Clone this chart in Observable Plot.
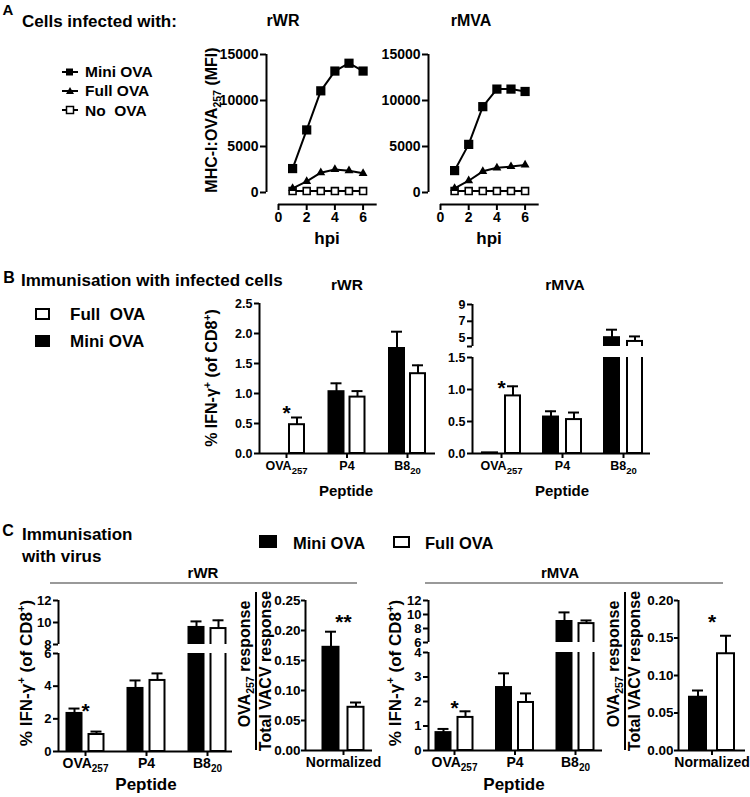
<!DOCTYPE html>
<html><head><meta charset="utf-8">
<script src="https://cdn.jsdelivr.net/npm/d3@7"></script>
<script src="https://cdn.jsdelivr.net/npm/@observablehq/plot@0.6"></script>
<style>
html,body{margin:0;padding:0;background:#fff;}
#root{position:relative;width:750px;height:797px;overflow:hidden;font-family:"Liberation Sans",Arial,Helvetica,sans-serif;font-weight:bold;color:#000;background:#fff;}
.lab{position:absolute;white-space:nowrap;line-height:1;}
.lab sub,.lab sup{font-size:0.66em;line-height:0;}
.box{position:absolute;box-sizing:border-box;border:2px solid #000;}
</style></head><body><div id="root"></div>
<script>
// ---------------- DATA ----------------
const hpi = [1, 2, 3, 4, 5, 6];
const hpiTicks = [0, 2, 4, 6];
const mfiTicks = [0, 5000, 10000, 15000];
const aWR_mini  = [2600, 6800, 11050, 13200, 14050, 13200];
const aWR_full  = [450, 1200, 2150, 2500, 2370, 2080];
const aWR_none  = [150, 150, 150, 150, 150, 150];
const aMVA_mini = [2380, 5230, 9330, 11240, 11240, 10980];
const aMVA_full = [450, 1280, 2300, 2680, 2820, 3000];
const aMVA_none = [150, 150, 150, 150, 150, 150];

const peptides = ["OVA_257", "P4", "B8_20"];
const normCat = ["Normalized"];

const bWR_mini = [0, 1.03, 1.75],    bWR_miniErr = [null, 1.17, 2.03];
const bWR_full = [0.48, 0.94, 1.33], bWR_fullErr = [0.60, 1.04, 1.47];
const bMVA_mini = [0.01, 0.57, 5.05], bMVA_miniErr = [null, 0.66, 6.0];
const bMVA_full = [0.90, 0.53, 4.6],  bMVA_fullErr = [1.05, 0.64, 5.2];

const cWR_mini = [2.33, 3.86, 9.55], cWR_miniErr = [2.63, 4.35, 10.1];
const cWR_full = [1.04, 4.35, 9.45], cWR_fullErr = [1.22, 4.78, 10.2];
const cMVA_mini = [0.73, 2.57, 9.0], cMVA_miniErr = [0.88, 3.15, 10.3];
const cMVA_full = [1.35, 1.96, 8.7], cMVA_fullErr = [1.60, 2.33, 9.15];

const nWR_mini = [0.172], nWR_miniErr = [0.198];
const nWR_full = [0.072], nWR_fullErr = [0.080];
const nMVA_mini = [0.071], nMVA_miniErr = [0.080];
const nMVA_full = [0.129], nMVA_fullErr = [0.153];

const bWR_ticks = [0, 0.5, 1.0, 1.5, 2.0, 2.5];
const bMVA_ticksLow = [0, 0.5, 1.0, 1.5];
const bMVA_ticksUp = [4, 5, 7, 9];
const cWR_ticksLow = [0, 2, 4, 6], cWR_ticksUp = [8, 10, 12];
const cMVA_ticksLow = [0, 1, 2, 3, 4], cMVA_ticksUp = [6, 8, 10, 12];
const nWR_ticks = [0, 0.05, 0.10, 0.15, 0.20, 0.25];
const nMVA_ticks = [0, 0.05, 0.10, 0.15, 0.20];

const sig_bWR = [{g: 0, y: 0.75, t: "*"}];
const sig_bMVA = [{g: 0, y: 1.09, t: "*"}];
const sig_cWR = [{g: 0, y: 2.75, t: "*"}];
const sig_cMVA = [{g: 0, y: 1.92, t: "*"}];
const sig_nWR = [{g: 0, y: 0.222, t: "**"}];
const sig_nMVA = [{g: 0, y: 0.177, t: "*"}];

// ---------------- HELPERS ----------------
const root = document.getElementById("root");
const M = 50;
const FONT = "'Liberation Sans', Arial, Helvetica, sans-serif";

function label(html, x, y, size, opts = {}) {
  const d = document.createElement("div");
  d.className = "lab";
  d.innerHTML = html;
  d.style.fontSize = size + "px";
  d.style.left = x + "px";
  d.style.top = y + "px";
  const tx = opts.anchor === "start" ? "0" : "-50%";
  d.style.transform = `translate(${tx},-50%)` + (opts.rotate ? ` rotate(${opts.rotate}deg)` : "");
  root.appendChild(d);
}
function box(x0, y0, x1, y1, fill) {
  const d = document.createElement("div");
  d.className = "box";
  Object.assign(d.style, {left: x0 + "px", top: y0 + "px", width: (x1 - x0) + "px", height: (y1 - y0) + "px", background: fill});
  root.appendChild(d);
}
function hline(x0, x1, y, color, w) {
  const d = document.createElement("div");
  Object.assign(d.style, {position: "absolute", left: x0 + "px", top: (y - w / 2) + "px", width: (x1 - x0) + "px", height: w + "px", background: color});
  root.appendChild(d);
}
function vline(x, y0, y1, color, w) {
  const d = document.createElement("div");
  Object.assign(d.style, {position: "absolute", left: (x - w / 2) + "px", top: y0 + "px", width: w + "px", height: (y1 - y0) + "px", background: color});
  root.appendChild(d);
}

function plotAt(frame, xDomain, yDomain, marks, fs, hideX) {
  const [fx0, fx1, fy0, fy1] = frame;
  const svg = Plot.plot({
    width: fx1 - fx0 + 2 * M, height: fy1 - fy0 + 2 * M,
    marginLeft: M, marginRight: M, marginTop: M, marginBottom: M,
    style: `background:transparent;overflow:visible;font-family:${FONT};font-weight:bold;font-size:${fs}px;color:#000;`,
    x: hideX ? {type: "linear", domain: xDomain, axis: null} : {type: "linear", domain: xDomain},
    y: {type: "linear", domain: yDomain},
    marks
  });
  svg.style.position = "absolute";
  svg.style.left = (fx0 - M) + "px";
  svg.style.top = (fy0 - M) + "px";
  svg.style.maxWidth = "none";
  root.appendChild(svg);
  return svg;
}

function subTicks(svg, subSize) {
  svg.querySelectorAll('g[aria-label="x-axis tick label"] text').forEach(t => {
    const s = t.textContent;
    const k = s.indexOf("_");
    if (k >= 0) {
      t.textContent = s.slice(0, k);
      const ts = document.createElementNS("http://www.w3.org/2000/svg", "tspan");
      ts.setAttribute("font-size", subSize);
      ts.setAttribute("dy", "4");
      ts.textContent = s.slice(k + 1);
      t.appendChild(ts);
    }
  });
}

// ---------- line chart (panel A) ----------
function lineChart(c) {
  const ppx = 14.1, ppy = (c.y0 - c.yTop) / 15000;
  const fx1 = c.x0 + 7 * ppx;
  const xd = [(c.axis - c.x0) / ppx, 7];
  const yd = [-(c.xAxisY - c.y0) / ppy, 15000];
  const rows = arr => hpi.map((h, i) => ({h, v: arr[i]}));
  const m = rows(c.mini), f = rows(c.full), n = rows(c.none);
  const marks = [
    Plot.ruleX([xd[0]], {y1: 0, y2: 15000, strokeWidth: 2}),
    Plot.ruleY([yd[0]], {x1: 0, x2: 7, strokeWidth: 2}),
    Plot.axisY({ticks: mfiTicks, tickFormat: d3.format("d"), tickSize: 6, tickPadding: 2, strokeWidth: 2, label: null}),
    Plot.axisX({ticks: hpiTicks, tickFormat: d3.format("d"), tickSize: 6, tickPadding: 2, strokeWidth: 2, label: null}),
    Plot.line(n, {x: "h", y: "v", strokeWidth: 2}),
    Plot.line(f, {x: "h", y: "v", strokeWidth: 2}),
    Plot.line(m, {x: "h", y: "v", strokeWidth: 2}),
    Plot.dot(n, {x: "h", y: "v", symbol: "square", r: 3.9, fill: "white", stroke: "black", strokeWidth: 1.6}),
    Plot.dot(f, {x: "h", y: "v", symbol: "triangle", r: 3.3, fill: "black"}),
    Plot.dot(m, {x: "h", y: "v", symbol: "square", r: 5.2, fill: "black"})
  ];
  plotAt([c.axis, fx1, c.yTop, c.xAxisY], xd, yd, marks, 14, false);
}

// ---------- bar chart (panels B, C) ----------
function barChart(c) {
  const sp = c.sp;
  const xd = [(c.axis - c.g0) / sp, (c.xEnd - c.g0) / sp];
  const mini = c.cats.map((cat, i) => ({g: i, s: -1, v: c.mini[i], e: c.miniErr[i]}));
  const full = c.cats.map((cat, i) => ({g: i, s: 1, v: c.full[i], e: c.fullErr[i]}));
  const cx = d => d.g + d.s * c.off / sp;
  const errRows = mini.concat(full).filter(d => d.e != null);
  const ytSize = c.ytSize ?? 5, ytPad = c.ytPad ?? 2;
  c.segs.forEach((seg, k) => {
    const bottom = k === c.segs.length - 1;
    const [lo, hi] = seg.domain;
    const base = bottom ? lo : lo - (hi - lo);
    const rectOpts = fill => ({
      x1: d => cx(d) - c.bw / 2 / sp, x2: d => cx(d) + c.bw / 2 / sp,
      y1: base, y2: "v", fill, stroke: "black", strokeWidth: 2, clip: true
    });
    const marks = [
      Plot.rectY(mini, rectOpts("black")),
      Plot.rectY(full, rectOpts("white")),
      Plot.ruleX(errRows, {x: cx, y1: "v", y2: "e", strokeWidth: 2, clip: true}),
      Plot.ruleY(errRows, {y: "e", x1: d => cx(d) - c.cap / 2 / sp, x2: d => cx(d) + c.cap / 2 / sp, strokeWidth: 2, clip: true}),
      Plot.ruleX([xd[0]], {strokeWidth: 2}),
      Plot.axisY({ticks: seg.ticks, tickFormat: seg.fmt, tickSize: ytSize, tickPadding: ytPad, strokeWidth: 2, label: null, fontSize: c.ytFs})
    ];
    if (bottom) {
      marks.push(Plot.ruleY([lo], {strokeWidth: 2}));
      marks.push(Plot.axisX({ticks: c.cats.map((_, i) => i), tickFormat: i => c.cats[i], tickSize: 5, tickPadding: c.tickPad, strokeWidth: 2, label: null}));
    }
    const st = c.stars.filter(s => s.y >= lo && s.y <= hi);
    if (st.length) marks.push(Plot.text(st, {x: "g", y: "y", text: "t", fontSize: 21, dy: 5}));
    const svg = plotAt([c.axis, c.xEnd, seg.top, seg.bot], xd, [lo, hi], marks, c.fs, !bottom);
    if (bottom) subTicks(svg, c.subFs);
  });
}

const f1 = d3.format(".1f"), f2 = d3.format(".2f"), fd = d3.format("d");

// ---------------- PANEL A ----------------
label("A", 8, 9, 15);
label("Cells infected with:", 22, 21, 17, {anchor: "start"});
label("rWR", 283, 21, 16);
label("rMVA", 471, 21, 16);
label("MHC-I:OVA<sub>257</sub> (MFI)", 212, 120, 16, {rotate: -90});
label("hpi", 327, 238, 17);
label("hpi", 489, 238, 17);
{
  const d = document.createElement("div");
  d.style.position = "absolute"; d.style.left = "55px"; d.style.top = "60px";
  d.innerHTML = `<svg width="30" height="62" viewBox="0 0 30 62">
    <line x1="7" x2="23" y1="12" y2="12" stroke="#000" stroke-width="2"/><rect x="11" y="8.5" width="7" height="7" fill="#000"/>
    <line x1="7" x2="23" y1="31" y2="31" stroke="#000" stroke-width="2"/><path d="M15,27 L19,34 L11,34 Z" fill="#000"/>
    <line x1="7" x2="23" y1="50" y2="50" stroke="#000" stroke-width="2"/><rect x="11.5" y="46.5" width="7" height="7" fill="#fff" stroke="#000" stroke-width="1.5"/>
  </svg>`;
  root.appendChild(d);
}
label("Mini OVA", 85, 72, 15.5, {anchor: "start"});
label("Full OVA", 85, 91, 15.5, {anchor: "start"});
label("No&nbsp; OVA", 85, 111, 15.5, {anchor: "start"});

lineChart({axis: 266, x0: 278, yTop: 54, y0: 192, xAxisY: 204, mini: aWR_mini, full: aWR_full, none: aWR_none});
lineChart({axis: 428, x0: 440, yTop: 54, y0: 192, xAxisY: 204, mini: aMVA_mini, full: aMVA_full, none: aMVA_none});

// ---------------- PANEL B ----------------
label("B", 9, 278, 16);
label("Immunisation with infected cells", 21, 280, 17, {anchor: "start"});
box(35, 308, 50, 320, "#fff");
label("Full&nbsp; OVA", 70, 314, 17, {anchor: "start"});
box(35, 335, 50, 347, "#000");
label("Mini OVA", 70, 341, 17, {anchor: "start"});
label("rWR", 347, 285, 15.5);
label("rMVA", 565, 285, 15.5);
label("% IFN-γ<sup>+</sup> (of CD8<sup>+</sup>)", 212, 378, 16, {rotate: -90});
label("Peptide", 346, 490, 15);
label("Peptide", 562, 490, 15);

barChart({axis: 259, xEnd: 435, g0: 286, sp: 60.5, off: 10.5, bw: 15, cap: 11, fs: 12.5, subFs: 9.5, tickPad: 3,
  cats: peptides, mini: bWR_mini, miniErr: bWR_miniErr, full: bWR_full, fullErr: bWR_fullErr, stars: sig_bWR,
  segs: [{domain: [0, 2.5], top: 303, bot: 453, ticks: bWR_ticks, fmt: f1}]});
barChart({axis: 472, xEnd: 650, g0: 501, sp: 61, off: 11.5, bw: 15, cap: 11, fs: 12.5, subFs: 9.5, tickPad: 3,
  cats: peptides, mini: bMVA_mini, miniErr: bMVA_miniErr, full: bMVA_full, fullErr: bMVA_fullErr, stars: sig_bMVA,
  segs: [{domain: [4, 9], top: 304, bot: 346, ticks: bMVA_ticksUp, fmt: d => d === 4 ? "" : fd(d)},
         {domain: [0, 1.5], top: 357, bot: 453, ticks: bMVA_ticksLow, fmt: f1}]});

// ---------------- PANEL C ----------------
label("C", 8, 531, 16);
label("Immunisation", 22, 534, 17, {anchor: "start"});
label("with virus", 22, 556, 17, {anchor: "start"});
box(259, 535, 277, 548, "#000");
label("Mini OVA", 293, 543, 16.5, {anchor: "start"});
box(393, 536, 410, 548, "#fff");
label("Full OVA", 425, 543, 16.5, {anchor: "start"});
hline(50, 357, 583, "#999", 1.5);
hline(425, 723, 583, "#999", 1.5);
label("rWR", 203, 572, 15);
label("rMVA", 560, 572, 15);
label("% IFN-γ<sup>+</sup> (of CD8<sup>+</sup>)", 26, 673, 17, {rotate: -90});
label("% IFN-γ<sup>+</sup> (of CD8<sup>+</sup>)", 395, 673, 17, {rotate: -90});
label("OVA<sub>257</sub> response", 245, 664, 16, {rotate: -90});
vline(256, 592, 750, "#000", 2);
label("Total VACV response", 266, 671, 16, {rotate: -90});
label("OVA<sub>257</sub> response", 614, 664, 16, {rotate: -90});
vline(625, 592, 750, "#000", 2);
label("Total VACV response", 635, 671, 16, {rotate: -90});
label("Peptide", 146, 784, 17);
label("Peptide", 514, 784, 17);

barChart({axis: 58, xEnd: 232, g0: 85, sp: 61, off: 11, bw: 15, cap: 11, fs: 14, ytFs: 13, subFs: 10, tickPad: 2,
  cats: peptides, mini: cWR_mini, miniErr: cWR_miniErr, full: cWR_full, fullErr: cWR_fullErr, stars: sig_cWR,
  segs: [{domain: [8, 12], top: 600, bot: 644, ticks: cWR_ticksUp, fmt: fd},
         {domain: [0, 6], top: 653, bot: 751, ticks: cWR_ticksLow, fmt: fd}]});
barChart({axis: 305, xEnd: 372, g0: 343, sp: 50, off: 12.5, bw: 16, cap: 11, fs: 14, ytFs: 13.5, ytSize: 4, ytPad: 1, subFs: 10, tickPad: 2,
  cats: normCat, mini: nWR_mini, miniErr: nWR_miniErr, full: nWR_full, fullErr: nWR_fullErr, stars: sig_nWR,
  segs: [{domain: [0, 0.25], top: 600, bot: 750, ticks: nWR_ticks, fmt: f2}]});
barChart({axis: 428, xEnd: 602, g0: 454, sp: 60.5, off: 11, bw: 15, cap: 11, fs: 14, ytFs: 13, subFs: 10, tickPad: 2,
  cats: peptides, mini: cMVA_mini, miniErr: cMVA_miniErr, full: cMVA_full, fullErr: cMVA_fullErr, stars: sig_cMVA,
  segs: [{domain: [6, 12], top: 600, bot: 642, ticks: cMVA_ticksUp, fmt: fd},
         {domain: [0, 4], top: 652, bot: 750, ticks: cMVA_ticksLow, fmt: fd}]});
barChart({axis: 678, xEnd: 745, g0: 711.5, sp: 50, off: 14, bw: 17, cap: 11, fs: 14, ytFs: 13.5, ytSize: 4, ytPad: 1, subFs: 10, tickPad: 2,
  cats: normCat, mini: nMVA_mini, miniErr: nMVA_miniErr, full: nMVA_full, fullErr: nMVA_fullErr, stars: sig_nMVA,
  segs: [{domain: [0, 0.2], top: 600, bot: 750, ticks: nMVA_ticks, fmt: f2}]});
</script></body></html>
